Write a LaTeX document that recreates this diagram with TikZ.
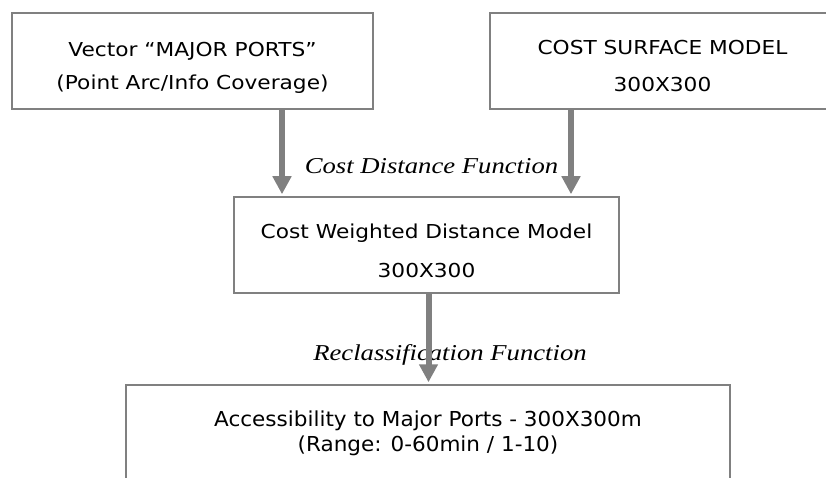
\documentclass[tikz,border=0pt]{standalone}
\usepackage{fontspec}
\usepackage{tikz}
\usetikzlibrary{arrows.meta}
\newfontfamily\boxfont[FakeStretch=1.13]{DejaVu Sans}
\newfontfamily\accessfont[FakeStretch=1.045]{DejaVu Sans}
\newfontfamily\funcfont[FakeStretch=1.175]{Liberation Serif}
\definecolor{linegray}{RGB}{128,128,128}
\tikzset{ proc_box/.style = {rectangle, draw=linegray, line width=2.5pt, align=center, inner sep=0pt} }
\tikzset{ flow_arrow/.style = {draw=linegray, line width=6pt, -{Triangle[width=18pt,length=18pt]}, shorten >=1.5pt} }
\tikzset{ func_label/.style = {font=\funcfont\itshape\fontsize{22.7}{26}\selectfont, anchor=base, inner sep=0pt} }
\newcommand{\uppad}[1]{\rule{0pt}{#1pt}}
\newcommand{\downpad}[1]{\rule[-#1pt]{0pt}{#1pt}}

\begin{document}
\begin{tikzpicture}[x=1pt,y=-1pt]
            \useasboundingbox (0,0) rectangle (826,478);
                \node [style=proc_box, minimum width=361, minimum height=96, font=\boxfont\fontsize{19.2}{33}\selectfont] (ports) at (192.5,61) {\uppad{31}Vector “MAJOR PORTS”\\(Point Arc/Info Coverage)\downpad{6}};
                \node [style=proc_box, minimum width=345, minimum height=96, font=\boxfont\fontsize{19.2}{37}\selectfont] (cost) at (662.5,61) {\uppad{31}COST SURFACE MODEL\\300X300\downpad{6}};
                \node [style=proc_box, minimum width=385, minimum height=96, font=\boxfont\fontsize{19.2}{39}\selectfont] (cwd) at (426.5,245) {\uppad{31.6}Cost Weighted Distance Model\\300X300\downpad{6}};
                \node [style=proc_box, minimum width=604, minimum height=120, font=\accessfont\fontsize{20.6}{25}\selectfont] (access) at (428,445) {\uppad{17}Accessibility to Major Ports - 300X300m\\(Range: 0-60min / 1-10)\downpad{28.6}};
                % function names beside the arrows
                \node [style=func_label] (cdf) at (431.5,174) {Cost Distance Function};
                \node [style=func_label] (rcf) at (450,360) {Reclassification Function};
                \draw[flow_arrow] ([xshift=89.5]ports.south) -- ([xshift=89.5]ports.south |- cwd.north);
                \draw[flow_arrow] ([xshift=-91.5]cost.south) -- ([xshift=-91.5]cost.south |- cwd.north);
                \draw[flow_arrow] ([xshift=2]cwd.south) -- ([xshift=2]cwd.south |- access.north);
        \end{tikzpicture}
\end{document}
